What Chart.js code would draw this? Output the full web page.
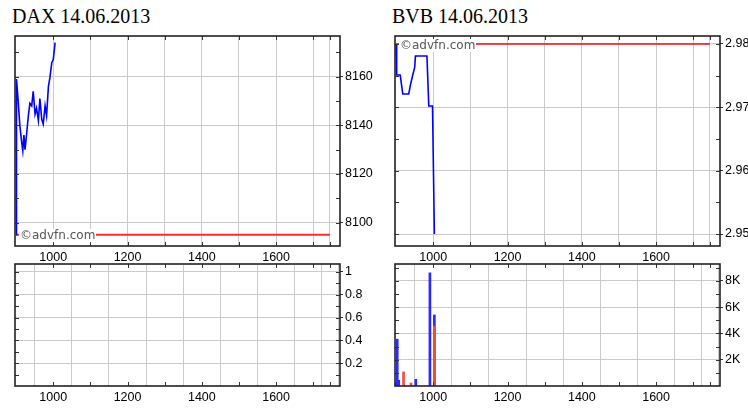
<!DOCTYPE html>
<html><head><meta charset="utf-8">
<script src="https://cdn.jsdelivr.net/npm/chart.js@4/dist/chart.umd.min.js"></script>
<style>
html,body{margin:0;padding:0;background:#fff;}
body{width:748px;height:416px;position:relative;overflow:hidden;}
canvas{position:absolute;}
.title{position:absolute;font-family:'Liberation Serif','Times New Roman',serif;font-size:20px;line-height:20px;color:#000;white-space:nowrap;}
.wm{position:absolute;font-family:'DejaVu Sans',Verdana,sans-serif;font-size:12px;line-height:13px;color:#555;background:#fff;white-space:nowrap;padding:0 1px;}
</style></head><body>
<div class="title" style="left:12px;top:6px">DAX 14.06.2013</div>
<div class="title" style="left:392px;top:6px">BVB 14.06.2013</div>
<canvas id="daxPrice" style="left:0;top:0" width="374" height="262"></canvas>
<canvas id="daxVol" style="left:0;top:262px" width="374" height="154"></canvas>
<canvas id="bvbPrice" style="left:374px;top:0" width="374" height="262"></canvas>
<canvas id="bvbVol" style="left:374px;top:262px" width="374" height="154"></canvas>
<div class="wm" style="left:19px;top:229px">©advfn.com</div>
<div class="wm" style="left:399px;top:39px">©advfn.com</div>
<script>
// ---- data ----
const X_GRID = [1000,1100,1200,1300,1400,1500,1600,1700,1745];
const X_LABELS = [1000,1200,1400,1600];
const SESSION = [900,1745];

const DAX_TIME  = [900,901,906,910,915,918,921,924,928,933,937,942,946,951,955,960,964,969,973,978,982,987,991,996,1000,1005];
const DAX_PRICE = [8095,8159,8149,8140,8133,8129.5,8136,8130,8136,8144,8149,8148,8154,8144.6,8147,8142,8151,8142.5,8140.5,8148,8144,8156,8159.6,8165.7,8167,8174];
const DAX_PREV_CLOSE = 8095;
const DAX_PRICE_TICKS = [8100,8120,8140,8160];
const DAX_VOL_TICKS = [0.2,0.4,0.6,0.8,1];

const BVB_TIME  = [900,901,902,911,918,934,938,944,950,952,983,988,998,1003];
const BVB_PRICE = [2.98,2.9763,2.9751,2.9751,2.9721,2.9721,2.9734,2.9749,2.9763,2.9781,2.9781,2.9702,2.9702,2.95];
const BVB_PREV_CLOSE = 2.98;
const BVB_PRICE_TICKS = [2.95,2.96,2.97,2.98];
const BVB_VOL_UP_TIME = [900,903,907,953,991,1003];
const BVB_VOL_UP      = [250,3560,440,510,8600,5400];
const BVB_VOL_DOWN_TIME = [920,940,1003];
const BVB_VOL_DOWN      = [1070,230,4550];
const BVB_VOL_TICKS = [2000,4000,6000,8000];

// ---- styling ----
const FONT = {family:"'Liberation Sans Narrow','Liberation Sans',Arial,sans-serif", size:12.5};
const GRID = '#c8cccc';
const BLUE = '#0000ff';
const RED = '#ff2a2a';

const pts = (xs, ys) => xs.map((x,i)=>({x:x, y:ys[i]}));

const framePlugin = {
  id:'frame',
  afterDatasetsDraw(chart, args, opts){
    const {ctx, chartArea:{left,top,right,bottom}, scales:{x,y}} = chart;
    ctx.save();
    ctx.strokeStyle='#333'; ctx.lineWidth=1;
    ctx.beginPath();
    for(let v=opts.yStart; v<=y.max+1e-9; v+=opts.yStep){
      const py=Math.round(y.getPixelForValue(v))+0.5;
      ctx.moveTo(left,py); ctx.lineTo(left+4,py);
      ctx.moveTo(right-4,py); ctx.lineTo(right,py);
    }
    X_GRID.forEach(v=>{
      const px=Math.round(x.getPixelForValue(v))+0.5;
      ctx.moveTo(px,bottom); ctx.lineTo(px,bottom-4);
      ctx.moveTo(px,top); ctx.lineTo(px,top+4);
    });
    ctx.stroke();
    ctx.strokeStyle='#222'; ctx.lineWidth=1.6;
    ctx.strokeRect(left,top,right-left,bottom-top);
    ctx.restore();
  }
};

function xScale(h){
  return {
    type:'linear', min:897, max:1772, offset:false,
    afterBuildTicks:s=>{ s.ticks = X_GRID.map(v=>({value:v})); },
    ticks:{autoSkip:false, maxRotation:0, padding:4, font:FONT, color:'#000',
      callback:v=> X_LABELS.includes(v) ? String(v) : ''},
    grid:{color:GRID, drawTicks:false, lineWidth:1},
    border:{display:false},
    afterFit:s=>{ s.height=h; s.paddingLeft=0; s.paddingRight=0; s.paddingTop=0; s.paddingBottom=0; }
  };
}
function yScale(min,max,ticks,fmt,w){
  return {
    type:'linear', position:'right', min:min, max:max,
    afterBuildTicks:s=>{ s.ticks = ticks.map(v=>({value:v})); },
    ticks:{autoSkip:false, padding:2, font:FONT, color:'#000', callback:fmt},
    grid:{color:GRID, drawTicks:true, tickLength:3, tickColor:'#333', lineWidth:1},
    border:{display:false},
    afterFit:s=>{ s.width=w; s.paddingLeft=0; s.paddingRight=0; s.paddingTop=0; s.paddingBottom=0; }
  };
}
function base(padL,padT,xs,ys,frame){
  return {
    responsive:false, animation:false, devicePixelRatio:1,
    layout:{padding:{left:padL, top:padT, right:0, bottom:0}},
    plugins:{legend:{display:false}, tooltip:{enabled:false}, frame:frame},
    scales:{x:xs, y:ys}
  };
}

// DAX price
new Chart(document.getElementById('daxPrice'), {
  type:'line',
  data:{datasets:[
    {data:pts(DAX_TIME,DAX_PRICE), borderColor:BLUE, borderWidth:1.6, pointRadius:0, tension:0},
    {data:pts(SESSION,[DAX_PREV_CLOSE,DAX_PREV_CLOSE]), borderColor:RED, borderWidth:2, pointRadius:0}
  ]},
  options:base(15,36, xScale(16), yScale(8090.4,8176.7,DAX_PRICE_TICKS,v=>String(v),34), {yStart:8100,yStep:10}),
  plugins:[framePlugin]
});

// DAX volume (empty)
new Chart(document.getElementById('daxVol'), {
  type:'bar',
  data:{datasets:[{data:[], backgroundColor:BLUE}]},
  options:base(15,2, xScale(30), yScale(0,1.07,DAX_VOL_TICKS,v=>String(v),34), {yStart:0.1,yStep:0.1}),
  plugins:[framePlugin]
});

// BVB price
new Chart(document.getElementById('bvbPrice'), {
  type:'line',
  data:{datasets:[
    {data:pts(BVB_TIME,BVB_PRICE), borderColor:BLUE, borderWidth:1.6, pointRadius:0, tension:0},
    {data:pts(SESSION,[BVB_PREV_CLOSE,BVB_PREV_CLOSE]), borderColor:'#e81010', borderWidth:1.6, pointRadius:0}
  ]},
  options:base(21,36, xScale(16), yScale(2.94811,2.98126,BVB_PRICE_TICKS,v=>v.toFixed(2),28), {yStart:2.95,yStep:0.005}),
  plugins:[framePlugin]
});

// BVB volume
new Chart(document.getElementById('bvbVol'), {
  type:'bar',
  data:{datasets:[
    {data:pts(BVB_VOL_DOWN_TIME,BVB_VOL_DOWN), backgroundColor:'#f04a4a', barThickness:2, grouped:false, order:0},
    {data:pts(BVB_VOL_UP_TIME,BVB_VOL_UP), backgroundColor:'#2a2aff', barThickness:2, grouped:false, order:1}
  ]},
  options:base(21,2, xScale(30), yScale(0,9273,BVB_VOL_TICKS,v=>(v/1000)+'K',28), {yStart:1000,yStep:1000}),
  plugins:[framePlugin]
});
</script>
</body></html>
